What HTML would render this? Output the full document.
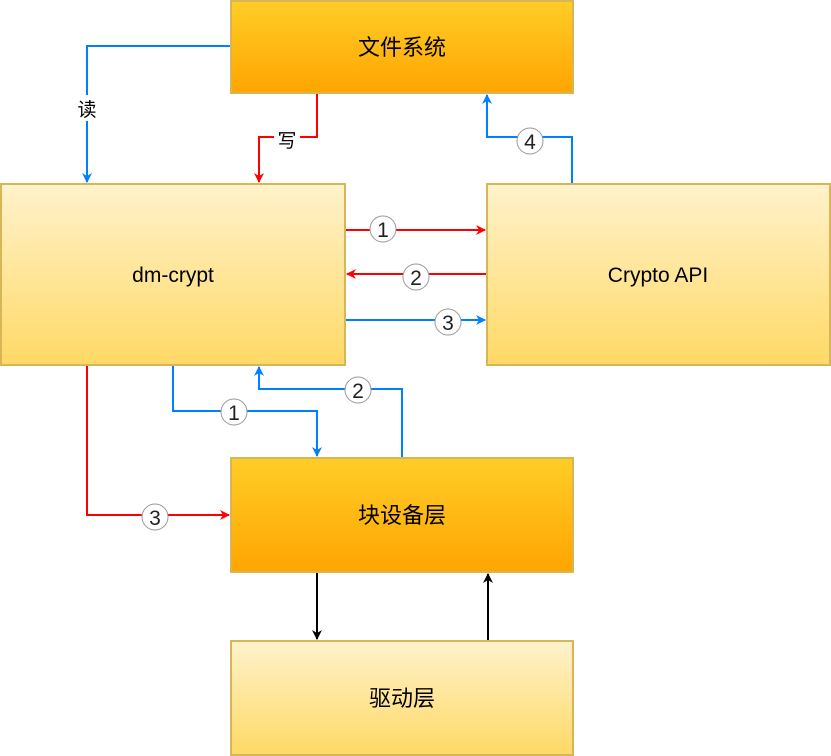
<!DOCTYPE html>
<html><head><meta charset="utf-8"><style>
html,body{margin:0;padding:0;background:#fff;width:831px;height:756px;overflow:hidden}
svg text{font-family:"Liberation Sans","Noto Sans CJK SC",sans-serif;}
</style></head><body>
<svg width="831" height="756" viewBox="0 0 831 756" xmlns="http://www.w3.org/2000/svg">
<defs>
<linearGradient id="og" x1="0" y1="0" x2="0" y2="1"><stop offset="0" stop-color="#ffcd28"/><stop offset="1" stop-color="#ffa500"/></linearGradient>
<linearGradient id="yg" x1="0" y1="0" x2="0" y2="1"><stop offset="0" stop-color="#fff2cc"/><stop offset="1" stop-color="#ffd966"/></linearGradient>
<marker id="ab" viewBox="0 0 10 10" refX="9" refY="5" markerWidth="10" markerHeight="10" markerUnits="userSpaceOnUse" orient="auto"><path d="M0,0 L10,5 L0,10 L3,5 Z" fill="#007fff"/></marker>
<marker id="ar" viewBox="0 0 10 10" refX="9" refY="5" markerWidth="10" markerHeight="10" markerUnits="userSpaceOnUse" orient="auto"><path d="M0,0 L10,5 L0,10 L3,5 Z" fill="#ff0000"/></marker>
<marker id="ak" viewBox="0 0 10 10" refX="9" refY="5" markerWidth="10" markerHeight="10" markerUnits="userSpaceOnUse" orient="auto"><path d="M0,0 L10,5 L0,10 L3,5 Z" fill="#000"/></marker>
</defs>
<g stroke="#d6b656" stroke-width="2">
<rect x="231" y="1" width="342" height="92" fill="url(#og)"/>
<rect x="1" y="184" width="344" height="181" fill="url(#yg)"/>
<rect x="487" y="184" width="343" height="181" fill="url(#yg)"/>
<rect x="231" y="458" width="342" height="114" fill="url(#og)"/>
<rect x="231" y="641" width="342" height="114" fill="url(#yg)"/>
</g>
<g font-size="22" text-anchor="middle" fill="#000">
<text x="402" y="55">文件系统</text>
<text x="173" y="282" font-size="21">dm-crypt</text>
<text x="658" y="282" font-size="21">Crypto  API</text>
<text x="402" y="523">块设备层</text>
<text x="402" y="706">驱动层</text>
</g>
<g fill="none" stroke-width="2">
<path d="M230,46 H87 V182" stroke="#007fff" marker-end="url(#ab)"/>
<path d="M317,94 V137 H259 V182" stroke="#ff0000" marker-end="url(#ar)"/>
<path d="M572,183 V137 H487 V95" stroke="#007fff" marker-end="url(#ab)"/>
<path d="M346,230 H485" stroke="#ff0000" marker-end="url(#ar)"/>
<path d="M486,274 H347" stroke="#ff0000" marker-end="url(#ar)"/>
<path d="M346,320 H485" stroke="#007fff" marker-end="url(#ab)"/>
<path d="M173,366 V411 H317 V456" stroke="#007fff" marker-end="url(#ab)"/>
<path d="M402,457 V389 H259 V367" stroke="#007fff" marker-end="url(#ab)"/>
<path d="M87,366 V515 H229" stroke="#ff0000" marker-end="url(#ar)"/>
<path d="M317,573 V639" stroke="#000" marker-end="url(#ak)"/>
<path d="M488,640 V574" stroke="#000" marker-end="url(#ak)"/>
</g>
<rect x="74" y="95" width="26" height="26" fill="#fff"/>
<text x="87" y="116" font-size="19" text-anchor="middle">读</text>
<rect x="274" y="127" width="26" height="24" fill="#fff"/>
<text x="287" y="147" font-size="19" text-anchor="middle">写</text>
<g fill="#fff" stroke="#999" stroke-width="1">
<circle cx="530" cy="141" r="13"/>
<circle cx="383" cy="229" r="13"/>
<circle cx="416" cy="277" r="13"/>
<circle cx="448" cy="322" r="13"/>
<circle cx="234" cy="412" r="13"/>
<circle cx="358" cy="390" r="13"/>
<circle cx="155" cy="517" r="13"/>
</g>
<g font-size="21" text-anchor="middle" fill="#222">
<text x="530" y="149">4</text>
<text x="383" y="237">1</text>
<text x="416" y="285">2</text>
<text x="448" y="330">3</text>
<text x="234" y="420">1</text>
<text x="358" y="398">2</text>
<text x="155" y="525">3</text>
</g>
</svg>
</body></html>
